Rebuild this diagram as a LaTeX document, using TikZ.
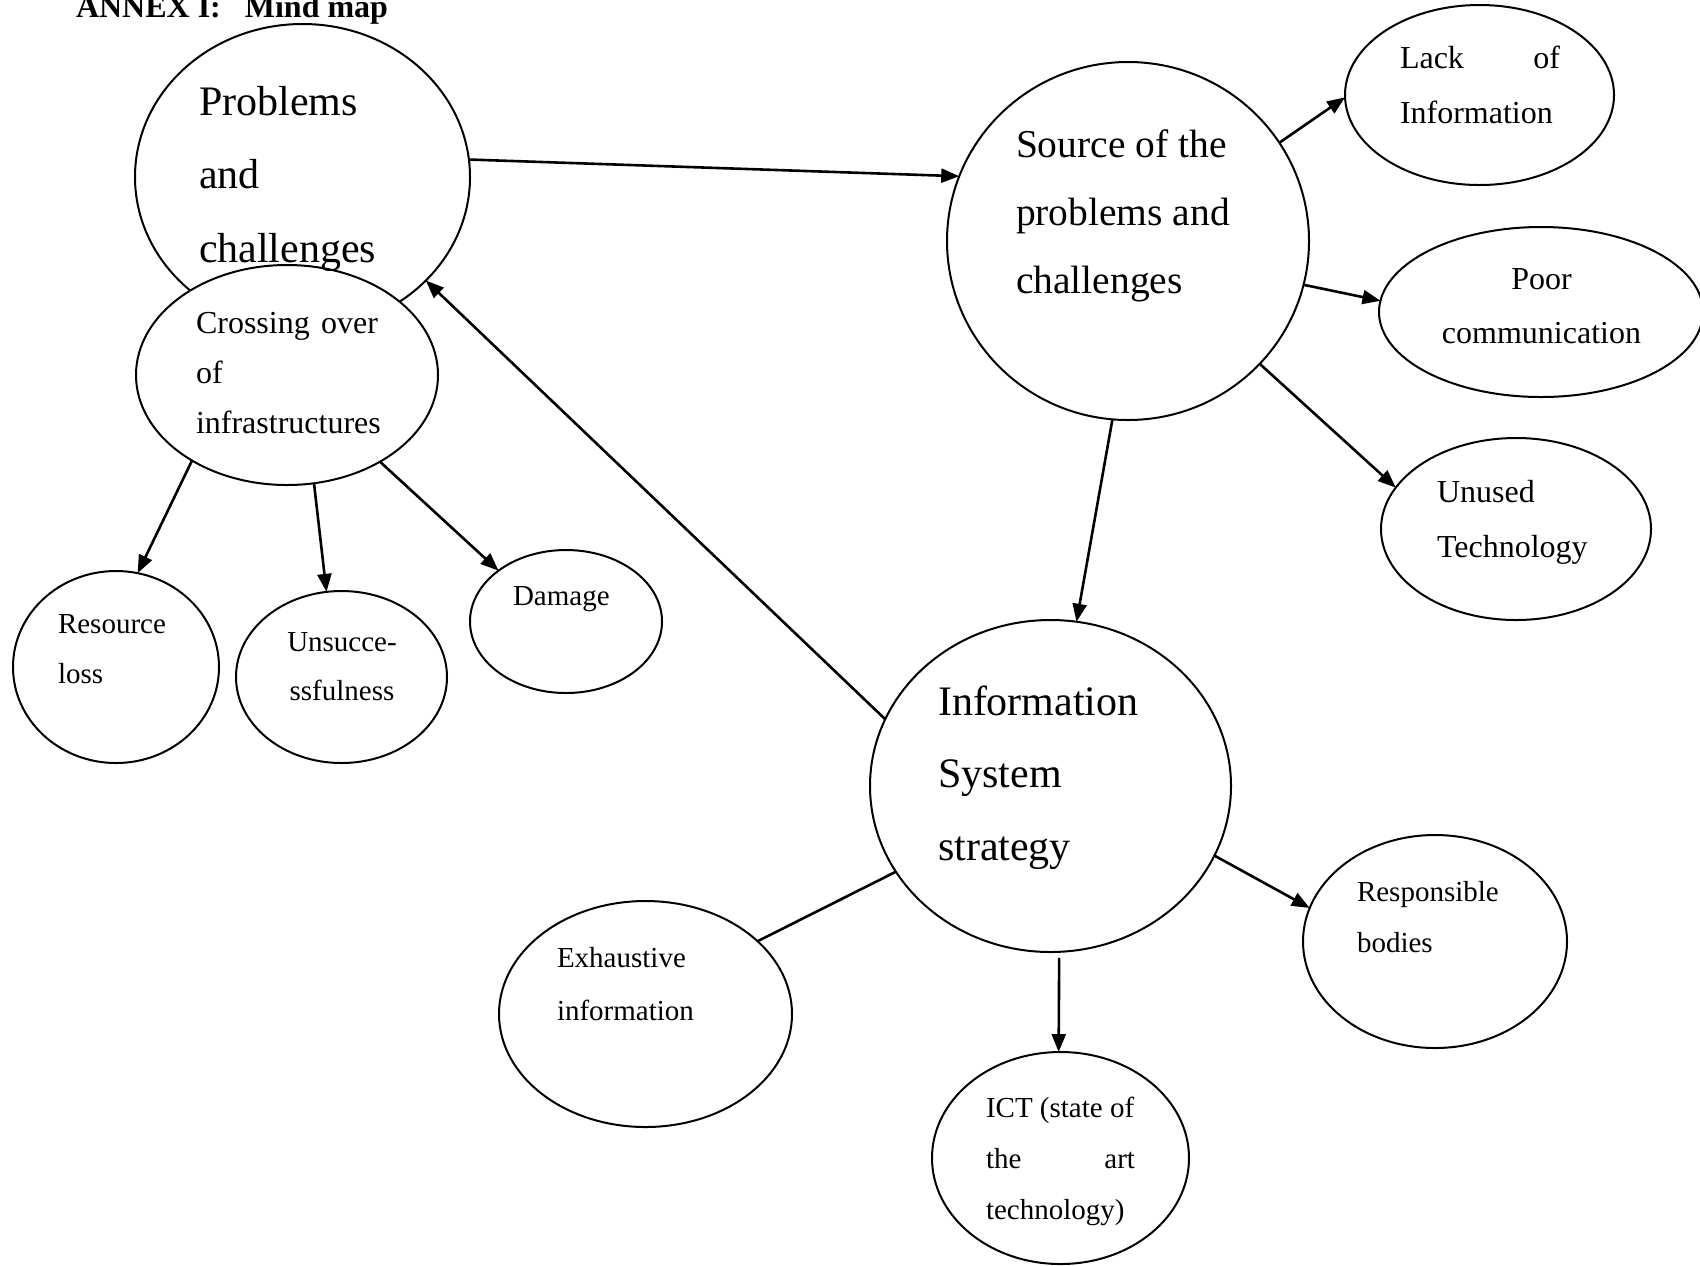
\documentclass[tikz,border=0pt]{standalone}
\usepackage{fontspec}
\setmainfont{Liberation Serif}
\usetikzlibrary{shapes.geometric,arrows.meta}

% text block: size, leading, width, body (first baseline is the box baseline)
\newcommand{\txtblock}[4]{\parbox[t]{#3}{\fontsize{#1}{#2}\selectfont #4}}

\begin{document}
\begin{tikzpicture}[x=0.5pt,y=-0.5pt,
  bub/.style={ellipse, draw, line width=1pt, fill=white, inner sep=0pt, outer sep=0pt},
  lbl/.style={inner sep=0pt, outer sep=0pt, anchor=base west},
  lblc/.style={inner sep=0pt, outer sep=0pt, anchor=base},
  conn/.style={line width=1.3pt, -{Triangle[length=9pt,width=7pt]}},
  link/.style={line width=1.3pt}
]
\useasboundingbox (0,0) rectangle (1700,1265);

% heading
\node[lbl] (title) at (76,17) {\fontsize{16}{19}\selectfont\bfseries ANNEX I:\hspace*{12pt}Mind map};

% bubbles
\node[bub, minimum width=167.5pt, minimum height=153pt] (prob) at (302.5,177) {};
\node[bub, minimum width=151pt, minimum height=110pt] (cross) at (287,375) {};
\node[bub, minimum width=181pt, minimum height=179pt] (src) at (1128,241) {};
\node[bub, minimum width=134.5pt, minimum height=90pt] (lack) at (1479.5,95) {};
\node[bub, minimum width=162pt, minimum height=85pt] (poor) at (1541,312) {};
\node[bub, minimum width=135pt, minimum height=91pt] (unused) at (1516,529) {};
\node[bub, minimum width=180.5pt, minimum height=166pt] (iss) at (1050.5,786) {};
\node[bub, minimum width=132pt, minimum height=106.5pt] (resp) at (1435,941.5) {};
\node[bub, minimum width=128.5pt, minimum height=106pt] (ict) at (1060.5,1158) {};
\node[bub, minimum width=146.5pt, minimum height=113pt] (exh) at (645.5,1014) {};
\node[bub, minimum width=96pt, minimum height=71.5pt] (dmg) at (566,621.5) {};
\node[bub, minimum width=105.5pt, minimum height=86pt] (unsucc) at (341.5,677) {};
\node[bub, minimum width=103pt, minimum height=96pt] (res) at (116,667) {};

% labels
\node[lbl] (probT) at (199,115) {\txtblock{21}{36.75}{120pt}{\raggedright Problems\\and\\challenges}};
\node[lbl] (crossT) at (196,333) {\txtblock{16}{25}{91pt}{Crossing\hfill over\\of\\infrastructures}};
\node[lbl] (srcT) at (1016,157) {\txtblock{19.75}{34}{130pt}{\raggedright Source of the\\problems and\\challenges}};
\node[lbl] (lackT) at (1400,68) {\txtblock{16}{27.5}{80pt}{Lack\hfill of\\Information}};
\node[lblc] (poorT) at (1541.5,289) {\txtblock{16}{27}{120pt}{\centering Poor\\communication}};
\node[lbl] (unusedT) at (1437,502) {\txtblock{16}{27.5}{100pt}{\raggedright Unused\\Technology}};
\node[lbl] (issT) at (938,715) {\txtblock{21}{36.25}{130pt}{\raggedright Information\\System\\strategy}};
\node[lbl] (respT) at (1357,901) {\txtblock{14.5}{25.5}{100pt}{\raggedright Responsible\\bodies}};
\node[lbl] (ictT) at (986,1117) {\txtblock{14.5}{25.5}{74.5pt}{ICT (state of\\the\hfill art\\technology)}};
\node[lbl] (exhT) at (557,967) {\txtblock{14.5}{26.5}{100pt}{\raggedright Exhaustive\\information}};
\node[lbl] (dmgT) at (513,605) {\txtblock{14.5}{25}{80pt}{\raggedright Damage}};
\node[lblc] (unsuccT) at (342,651) {\txtblock{14.5}{24.5}{80pt}{\centering Unsucce-\\ssfulness}};
\node[lbl] (resT) at (58,633) {\txtblock{14.5}{25}{80pt}{\raggedright Resource\\loss}};

% connectors
\draw[conn] (prob.6.1) -- (src.159.5);
\draw[conn] (iss.158.1) -- (prob.-40.4);
\draw[conn] (cross.-138.25) -- (res.77.5);
\draw[conn] (cross.-76.7) -- (unsucc.100.4);
\draw[conn] (cross.-43.65) -- (dmg.143.5);
\draw[conn] (src.33.9) -- (lack.181);
\draw[conn] (src.-14.6) -- (poor.176.1);
\draw[conn] (src.-43.9) -- (unused.161.3);
\draw[conn] (src.-95.7) -- (iss.81);
\draw[conn] (iss.-23.1) -- (resp.165.1);
\draw[conn, shorten <=3pt] (iss.-87.8) -- (ict.91.9);
\draw[link] (iss.-151) -- (exh.33.9);
\end{tikzpicture}
\end{document}
